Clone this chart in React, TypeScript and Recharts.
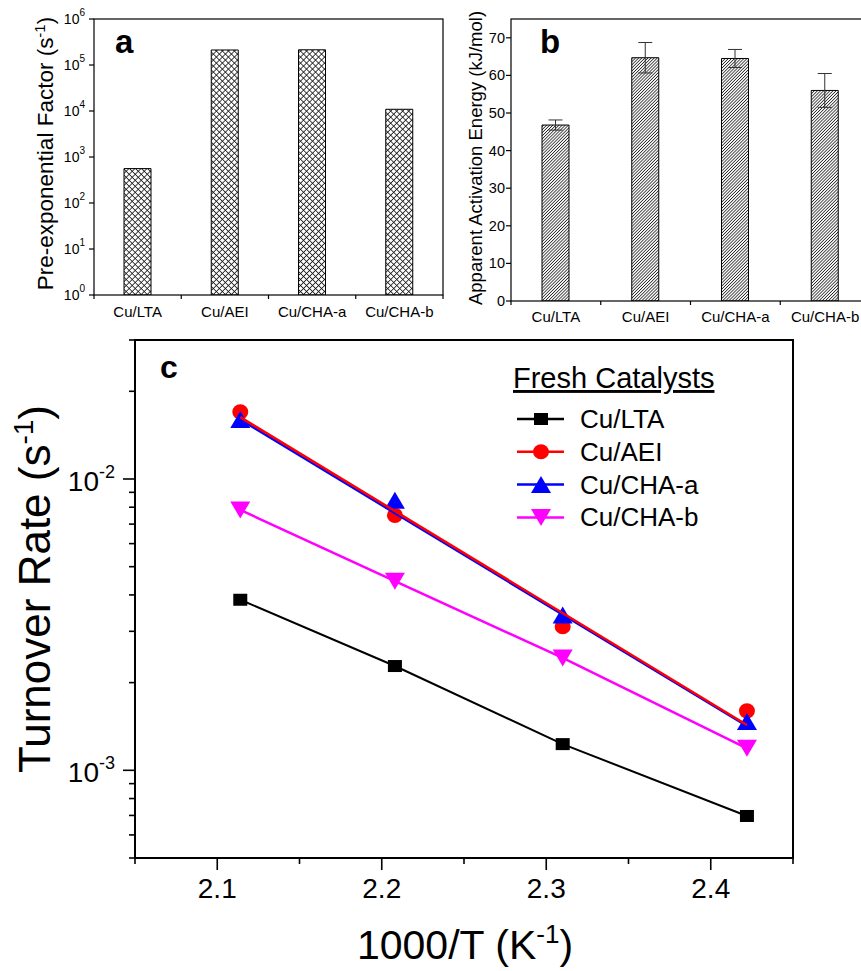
import React from 'react';
import { BarChart, Bar, ErrorBar, XAxis, YAxis, ScatterChart, Scatter } from 'recharts';

const FONT = '"Liberation Sans", Arial, Helvetica, sans-serif';

// panels a and b
const catalysts = ['Cu/LTA', 'Cu/AEI', 'Cu/CHA-a', 'Cu/CHA-b'];
const preFactor = [560, 212000, 214000, 10900];
const actEnergy = [46.8, 64.7, 64.5, 56.0];
const actEnergyErr = [1.35, 4.05, 2.4, 4.5];
const preFactorTicks = [1, 10, 100, 1000, 10000, 100000, 1000000];
const energyTicks = [0, 10, 20, 30, 40, 50, 60, 70];

// panel c
const invT = [2.114, 2.208, 2.31, 2.422];
const rateLTA = [0.00385, 0.00228, 0.00123, 0.000697];
const rateAEI = [0.017, 0.0075, 0.00311, 0.0016];
const rateCHAa = [0.016, 0.00845, 0.00341, 0.00147];
const rateCHAb = [0.00783, 0.00446, 0.00243, 0.00119];
const fitX = [2.114, 2.422];
const fitAEI = [0.0163, 0.00143];
const fitCHAa = [0.016, 0.00142];
const rateTicks = [
  0.0005, 0.0006, 0.0007, 0.0008, 0.0009, 0.001, 0.002, 0.003, 0.004, 0.005, 0.006, 0.007,
  0.008, 0.009, 0.01, 0.02, 0.03,
];
const rateMajor = [0.001, 0.01];
const invTTicks = [2.05, 2.1, 2.15, 2.2, 2.25, 2.3, 2.35, 2.4, 2.45];
const invTMajor = [2.1, 2.2, 2.3, 2.4];

const seriesC = [
  { name: 'Cu/LTA', color: '#000000', marker: 'square', values: rateLTA },
  { name: 'Cu/AEI', color: '#ff0000', marker: 'circle', values: rateAEI },
  { name: 'Cu/CHA-a', color: '#0000ff', marker: 'up', values: rateCHAa },
  { name: 'Cu/CHA-b', color: '#ff00ff', marker: 'down', values: rateCHAb },
];

const barDataA = catalysts.map((name, i) => ({ name, value: preFactor[i] }));
const barDataB = catalysts.map((name, i) => ({ name, value: actEnergy[i], err: actEnergyErr[i] }));
const toPoints = (xs: number[], ys: number[]) => xs.map((x, i) => ({ x, y: ys[i] }));

function MarkerShape({ kind, cx, cy, color }: { kind: string; cx: number; cy: number; color: string }) {
  if (kind === 'square') return <rect x={cx - 7} y={cy - 6} width={14} height={12} fill={color} />;
  if (kind === 'circle') return <ellipse cx={cx} cy={cy} rx={8} ry={7.5} fill={color} />;
  if (kind === 'up')
    return <polygon points={`${cx},${cy - 8.5} ${cx + 10},${cy + 8.5} ${cx - 10},${cy + 8.5}`} fill={color} />;
  return <polygon points={`${cx - 10},${cy - 8.5} ${cx + 10},${cy - 8.5} ${cx},${cy + 8.5}`} fill={color} />;
}

// category ticks sit between the bars, labels under the bar
const catTick = (band: number, labelDy: number) => (props: any) => {
  const { x, y, payload, index } = props;
  return (
    <g>
      <line x1={x - band / 2} x2={x - band / 2} y1={y} y2={y + 4} stroke="#000" strokeWidth={1.2} />
      {index === catalysts.length - 1 && (
        <line x1={x + band / 2} x2={x + band / 2} y1={y} y2={y + 4} stroke="#000" strokeWidth={1.2} />
      )}
      <text x={x} y={y + labelDy} textAnchor="middle" fontSize={15} fontFamily={FONT} fill="#000">
        {payload.value}
      </text>
    </g>
  );
};

const PreFactorTick = (props: any) => {
  const { x, y, payload } = props;
  const exp = Math.round(Math.log10(payload.value));
  return (
    <g>
      <line x1={x - 5} x2={x} y1={y} y2={y} stroke="#000" strokeWidth={1.2} />
      <text x={x - 9} y={y + 5} textAnchor="end" fontSize={14} fontFamily={FONT} fill="#000">
        10<tspan dy={-8} fontSize={10}>{exp}</tspan>
      </text>
    </g>
  );
};

const EnergyTick = (props: any) => {
  const { x, y, payload } = props;
  return (
    <g>
      <line x1={x - 5} x2={x} y1={y} y2={y} stroke="#000" strokeWidth={1.2} />
      <text x={x - 6} y={y + 5} textAnchor="end" fontSize={14.5} fontFamily={FONT} fill="#000">
        {payload.value}
      </text>
    </g>
  );
};

const RateTick = (props: any) => {
  const { x, y, payload } = props;
  const major = rateMajor.some((v) => Math.abs(v - payload.value) < 1e-9);
  if (!major) return <line x1={x - 6} x2={x} y1={y} y2={y} stroke="#000" strokeWidth={1.6} />;
  const exp = Math.round(Math.log10(payload.value));
  return (
    <g>
      <line x1={x - 12} x2={x} y1={y} y2={y} stroke="#000" strokeWidth={1.6} />
      <text x={x - 20} y={y + 12} textAnchor="end" fontSize={28} fontFamily={FONT} fill="#000">
        10<tspan dy={-13} fontSize={18}>{exp}</tspan>
      </text>
    </g>
  );
};

const InvTTick = (props: any) => {
  const { x, y, payload } = props;
  const major = invTMajor.some((v) => Math.abs(v - payload.value) < 1e-9);
  if (!major) return <line x1={x} x2={x} y1={y} y2={y + 6} stroke="#000" strokeWidth={1.6} />;
  return (
    <g>
      <line x1={x} x2={x} y1={y} y2={y + 12} stroke="#000" strokeWidth={1.6} />
      <text x={x} y={y + 40} textAnchor="middle" fontSize={28} fontFamily={FONT} fill="#000">
        {payload.value.toFixed(1)}
      </text>
    </g>
  );
};

function PanelA() {
  return (
    <BarChart width={450} height={330} data={barDataA} margin={{ top: 19, right: 7, left: 0, bottom: 0 }} barSize={27}>
      <defs>
        <pattern id="xhatch" width={4.25} height={4.25} patternUnits="userSpaceOnUse" patternTransform="rotate(45)">
          <rect width={4.25} height={4.25} fill="#fff" />
          <path d="M0,2.1 H4.25 M2.1,0 V4.25" stroke="#111" strokeWidth={0.8} />
        </pattern>
      </defs>
      <XAxis dataKey="name" height={35} tickLine={false} tickSize={0} tickMargin={0} interval={0}
        axisLine={false} tick={catTick(87.25, 22)} />
      <YAxis type="number" scale="log" domain={[1, 1000000]} ticks={preFactorTicks} allowDataOverflow width={94}
        interval={0} tickLine={false} tickSize={0} tickMargin={0} axisLine={false} tick={PreFactorTick} />
      <Bar dataKey="value" fill="url(#xhatch)" stroke="#000" strokeWidth={1} isAnimationActive={false} />
    </BarChart>
  );
}

function PanelB() {
  return (
    <BarChart width={440} height={336} data={barDataB} margin={{ top: 19, right: 10, left: 0, bottom: 0 }} barSize={27}>
      <defs>
        <pattern id="dhatch" width={2.2} height={10} patternUnits="userSpaceOnUse" patternTransform="rotate(45)">
          <rect width={2.2} height={10} fill="#fff" />
          <line x1={1.1} y1={0} x2={1.1} y2={10} stroke="#222" strokeWidth={0.8} />
        </pattern>
      </defs>
      <XAxis dataKey="name" height={35} tickLine={false} tickSize={0} tickMargin={0} interval={0}
        axisLine={false} tick={catTick(89.75, 21)} />
      <YAxis type="number" domain={[0, 75]} ticks={energyTicks} allowDataOverflow width={71} interval={0}
        tickLine={false} tickSize={0} tickMargin={0} axisLine={false} tick={EnergyTick} />
      <Bar dataKey="value" fill="url(#dhatch)" stroke="#000" strokeWidth={1} isAnimationActive={false}>
        <ErrorBar dataKey="err" width={7} stroke="#333" strokeWidth={1} />
      </Bar>
    </BarChart>
  );
}

function PanelC() {
  const [lta, aei, chaA, chaB] = seriesC;
  const markerOf = (s: typeof lta) => (p: any) => <MarkerShape kind={s.marker} cx={p.cx} cy={p.cy} color={s.color} />;
  return (
    <ScatterChart width={861} height={641} margin={{ top: 10, right: 68, left: 0, bottom: 0 }}>
      <XAxis dataKey="x" type="number" domain={[2.05, 2.45]} ticks={invTTicks} allowDataOverflow height={113}
        interval={0} tickLine={false} tickSize={0} tickMargin={0} axisLine={false} tick={InvTTick} />
      <YAxis dataKey="y" type="number" scale="log" domain={[0.0005, 0.03]} ticks={rateTicks} allowDataOverflow
        width={135} interval={0} tickLine={false} tickSize={0} tickMargin={0} axisLine={false} tick={RateTick} />
      <Scatter name={lta.name} data={toPoints(invT, lta.values)} line={{ stroke: lta.color, strokeWidth: 2 }}
        shape={markerOf(lta)} isAnimationActive={false} />
      <Scatter name={chaB.name} data={toPoints(invT, chaB.values)} line={{ stroke: chaB.color, strokeWidth: 2.5 }}
        shape={markerOf(chaB)} isAnimationActive={false} />
      <Scatter name={aei.name} data={toPoints(invT, aei.values)} shape={markerOf(aei)} isAnimationActive={false} />
      <Scatter name={chaA.name} data={toPoints(invT, chaA.values)} shape={markerOf(chaA)} isAnimationActive={false} />
      <Scatter data={toPoints(fitX, fitCHAa)} line={{ stroke: chaA.color, strokeWidth: 2.5 }} shape={() => <g />}
        isAnimationActive={false} />
      <Scatter data={toPoints(fitX, fitAEI)} line={{ stroke: aei.color, strokeWidth: 2.5 }} shape={() => <g />}
        isAnimationActive={false} />
    </ScatterChart>
  );
}

// frames around each plot area, titles, panel letters and the legend of panel c
function Labels() {
  return (
    <svg width={861} height={971} style={{ position: 'absolute', left: 0, top: 0, pointerEvents: 'none' }}>
      <g fill="none" stroke="#000">
        <rect x={94} y={19} width={349} height={276} strokeWidth={1.2} />
        <rect x={511} y={19} width={359} height={282} strokeWidth={1.2} />
        <rect x={135} y={340} width={658} height={518} strokeWidth={2} />
      </g>
      <g fontFamily={FONT} fill="#000">
        <text x={115} y={53} fontSize={33} fontWeight="bold">a</text>
        <text x={540} y={53} fontSize={33} fontWeight="bold">b</text>
        <text x={160} y={378} fontSize={32} fontWeight="bold">c</text>

        <text transform="translate(53,153.5) rotate(-90)" textAnchor="middle" fontSize={22.5}>
          Pre-exponential Factor (s<tspan dy={-8} fontSize={15}>-1</tspan><tspan dy={8}>)</tspan>
        </text>
        <text transform="translate(482,158) rotate(-90)" textAnchor="middle" fontSize={18.5}>
          Apparent Activation Energy (kJ/mol)
        </text>
        <text transform="translate(50,589) rotate(-90)" textAnchor="middle" fontSize={44}>
          Turnover Rate (s<tspan dy={-17} fontSize={28}>-1</tspan><tspan dy={17}>)</tspan>
        </text>
        <text x={465} y={959} textAnchor="middle" fontSize={41}>
          1000/T (K<tspan dy={-16} fontSize={26}>-1</tspan><tspan dy={16}>)</tspan>
        </text>

        <text x={513} y={388} fontSize={29} style={{ textDecoration: 'underline' }}>Fresh Catalysts</text>
        {seriesC.map((s, i) => {
          const cy = 419 + i * 32.8;
          return (
            <g key={s.name}>
              <line x1={517} x2={564} y1={cy} y2={cy} stroke={s.color} strokeWidth={2.5} />
              <MarkerShape kind={s.marker} cx={541} cy={cy} color={s.color} />
              <text x={580} y={cy + 9} fontSize={26}>{s.name}</text>
            </g>
          );
        })}
      </g>
    </svg>
  );
}

export default function App() {
  return (
    <div style={{ position: 'absolute', left: 0, top: 0, width: 861, height: 971, overflow: 'hidden', background: '#fff' }}>
      <div style={{ position: 'absolute', left: 0, top: 0 }}>
        <PanelA />
      </div>
      <div style={{ position: 'absolute', left: 440, top: 0 }}>
        <PanelB />
      </div>
      <div style={{ position: 'absolute', left: 0, top: 330 }}>
        <PanelC />
      </div>
      <Labels />
    </div>
  );
}
